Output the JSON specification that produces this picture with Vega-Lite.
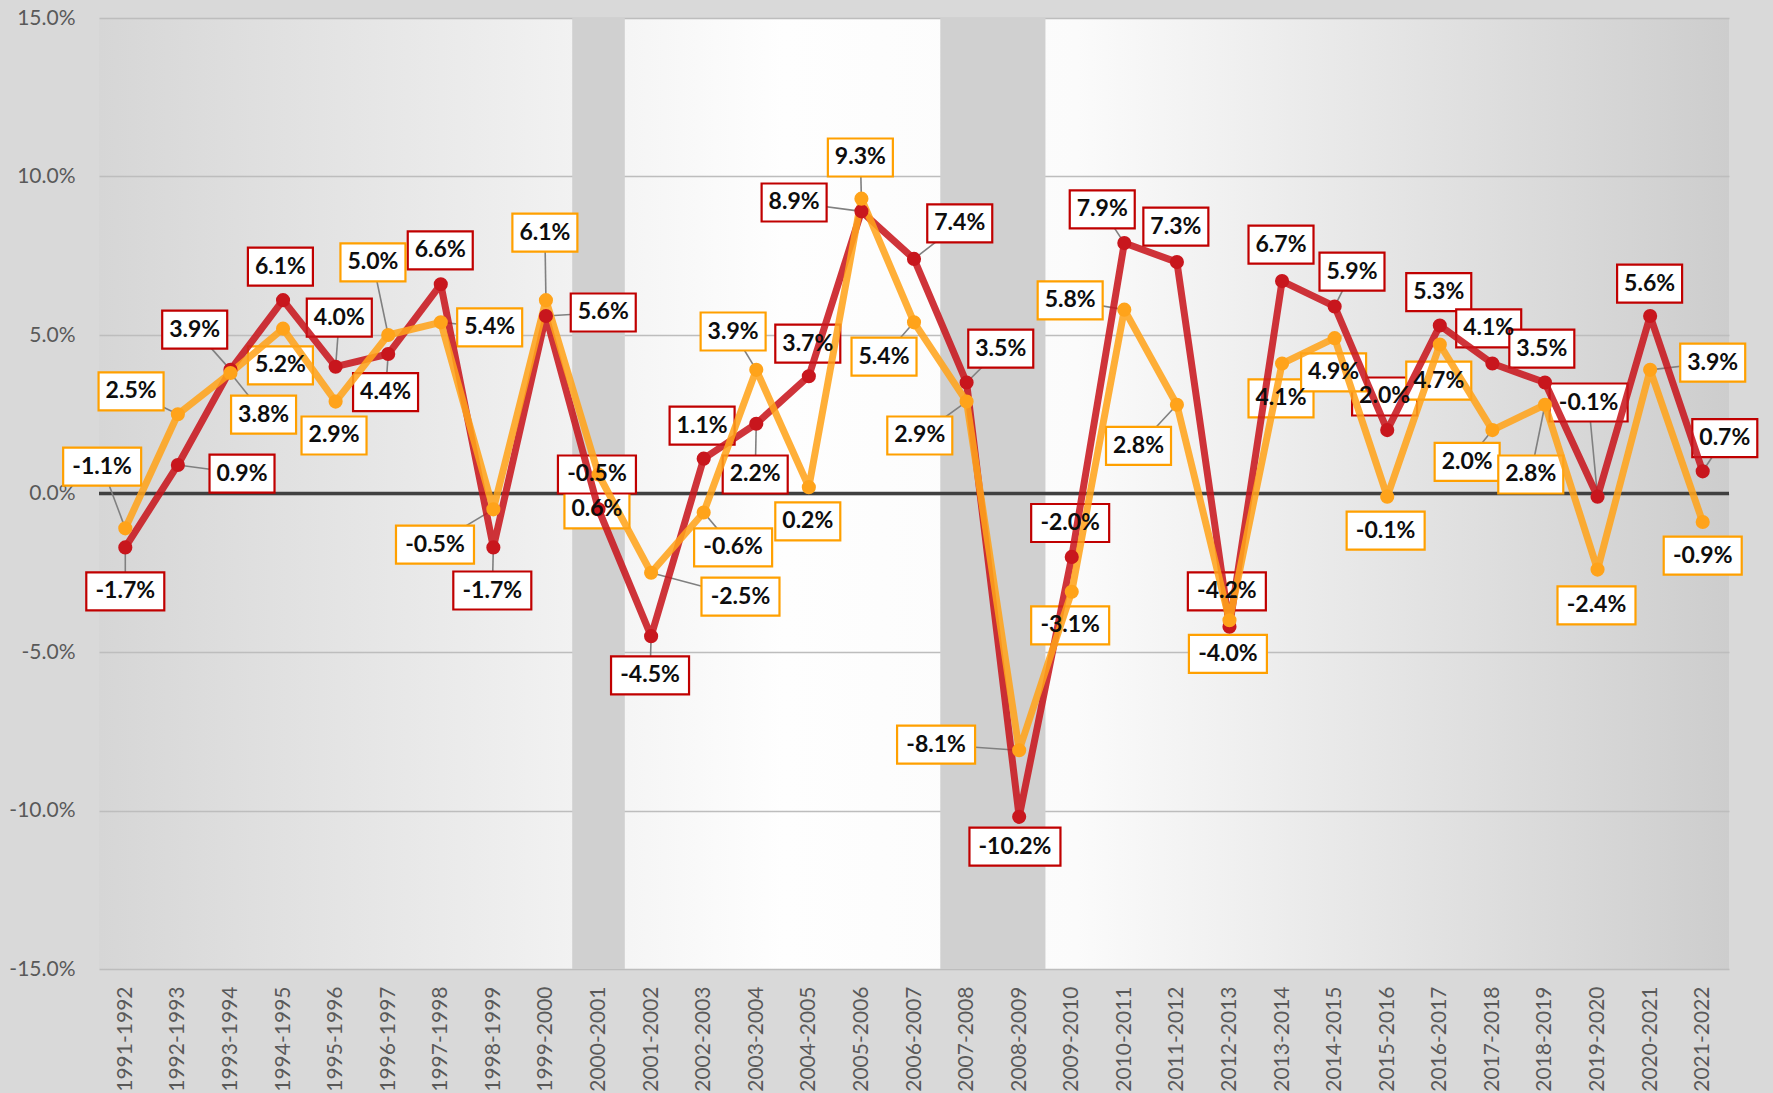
{
  "$schema": "https://vega.github.io/schema/vega-lite/v6.json",
  "autosize": {"type": "none"},
  "padding": {"left": 99, "top": 18, "right": 44, "bottom": 124},
  "width": 1630,
  "height": 951,
  "background": "#d9d9d9",
  "config": {
    "view": {"stroke": null, "fill": {"gradient": "linear", "x1": 0, "y1": 0, "x2": 1, "y2": 0, "stops": [{"offset": 0, "color": "#d6d6d6"}, {"offset": 0.42, "color": "#fefefe"}, {"offset": 0.6, "color": "#fbfbfb"}, {"offset": 1, "color": "#cdcdcd"}]}},
    "locale": {"number": {"decimal": ".", "thousands": ",", "grouping": [3], "currency": ["$", ""], "minus": "-"}}
  },
  "datasets": {
    "growth": [
      {"year": "1991-1992", "i": 0, "series": "Series 1", "v": -0.017, "lx": 0, "ly": -0.0309},
      {"year": "1992-1993", "i": 1, "series": "Series 1", "v": 0.009, "lx": 2.22, "ly": 0.0063},
      {"year": "1993-1994", "i": 2, "series": "Series 1", "v": 0.039, "lx": 1.32, "ly": 0.0517},
      {"year": "1994-1995", "i": 3, "series": "Series 1", "v": 0.061, "lx": 2.95, "ly": 0.0716},
      {"year": "1995-1996", "i": 4, "series": "Series 1", "v": 0.040, "lx": 4.07, "ly": 0.0555},
      {"year": "1996-1997", "i": 5, "series": "Series 1", "v": 0.044, "lx": 4.95, "ly": 0.032},
      {"year": "1997-1998", "i": 6, "series": "Series 1", "v": 0.066, "lx": 5.99, "ly": 0.0767},
      {"year": "1998-1999", "i": 7, "series": "Series 1", "v": -0.017, "lx": 6.98, "ly": -0.0306},
      {"year": "1999-2000", "i": 8, "series": "Series 1", "v": 0.056, "lx": 9.09, "ly": 0.0571},
      {"year": "2000-2001", "i": 9, "series": "Series 1", "v": -0.005, "lx": 8.97, "ly": 0.006},
      {"year": "2001-2002", "i": 10, "series": "Series 1", "v": -0.045, "lx": 9.98, "ly": -0.0574},
      {"year": "2002-2003", "i": 11, "series": "Series 1", "v": 0.011, "lx": 10.97, "ly": 0.0214},
      {"year": "2003-2004", "i": 12, "series": "Series 1", "v": 0.022, "lx": 11.98, "ly": 0.006},
      {"year": "2004-2005", "i": 13, "series": "Series 1", "v": 0.037, "lx": 12.98, "ly": 0.0473},
      {"year": "2005-2006", "i": 14, "series": "Series 1", "v": 0.089, "lx": 12.72, "ly": 0.0918},
      {"year": "2006-2007", "i": 15, "series": "Series 1", "v": 0.074, "lx": 15.87, "ly": 0.0852},
      {"year": "2007-2008", "i": 16, "series": "Series 1", "v": 0.035, "lx": 16.65, "ly": 0.0457},
      {"year": "2008-2009", "i": 17, "series": "Series 1", "v": -0.102, "lx": 16.92, "ly": -0.1114},
      {"year": "2009-2010", "i": 18, "series": "Series 1", "v": -0.020, "lx": 17.97, "ly": -0.0093},
      {"year": "2010-2011", "i": 19, "series": "Series 1", "v": 0.079, "lx": 18.58, "ly": 0.0896},
      {"year": "2011-2012", "i": 20, "series": "Series 1", "v": 0.073, "lx": 19.98, "ly": 0.0842},
      {"year": "2012-2013", "i": 21, "series": "Series 1", "v": -0.042, "lx": 20.95, "ly": -0.0309},
      {"year": "2013-2014", "i": 22, "series": "Series 1", "v": 0.067, "lx": 21.98, "ly": 0.0785},
      {"year": "2014-2015", "i": 23, "series": "Series 1", "v": 0.059, "lx": 23.33, "ly": 0.07},
      {"year": "2015-2016", "i": 24, "series": "Series 1", "v": 0.020, "lx": 23.95, "ly": 0.0306},
      {"year": "2016-2017", "i": 25, "series": "Series 1", "v": 0.053, "lx": 24.98, "ly": 0.0635},
      {"year": "2017-2018", "i": 26, "series": "Series 1", "v": 0.041, "lx": 25.93, "ly": 0.0521},
      {"year": "2018-2019", "i": 27, "series": "Series 1", "v": 0.035, "lx": 26.94, "ly": 0.0457},
      {"year": "2019-2020", "i": 28, "series": "Series 1", "v": -0.001, "lx": 27.83, "ly": 0.0287},
      {"year": "2020-2021", "i": 29, "series": "Series 1", "v": 0.056, "lx": 28.99, "ly": 0.0662},
      {"year": "2021-2022", "i": 30, "series": "Series 1", "v": 0.007, "lx": 30.42, "ly": 0.0175},
      {"year": "1991-1992", "i": 0, "series": "Series 2", "v": -0.011, "lx": -0.44, "ly": 0.0085},
      {"year": "1992-1993", "i": 1, "series": "Series 2", "v": 0.025, "lx": 0.11, "ly": 0.0322},
      {"year": "1993-1994", "i": 2, "series": "Series 2", "v": 0.038, "lx": 2.63, "ly": 0.0249},
      {"year": "1994-1995", "i": 3, "series": "Series 2", "v": 0.052, "lx": 2.95, "ly": 0.0404},
      {"year": "1995-1996", "i": 4, "series": "Series 2", "v": 0.029, "lx": 3.97, "ly": 0.0183},
      {"year": "1996-1997", "i": 5, "series": "Series 2", "v": 0.050, "lx": 4.71, "ly": 0.0729},
      {"year": "1997-1998", "i": 6, "series": "Series 2", "v": 0.054, "lx": 6.93, "ly": 0.0524},
      {"year": "1998-1999", "i": 7, "series": "Series 2", "v": -0.005, "lx": 5.89, "ly": -0.0161},
      {"year": "1999-2000", "i": 8, "series": "Series 2", "v": 0.061, "lx": 7.98, "ly": 0.0823},
      {"year": "2000-2001", "i": 9, "series": "Series 2", "v": 0.006, "lx": 8.97, "ly": -0.005},
      {"year": "2001-2002", "i": 10, "series": "Series 2", "v": -0.025, "lx": 11.7, "ly": -0.0325},
      {"year": "2002-2003", "i": 11, "series": "Series 2", "v": -0.006, "lx": 11.56, "ly": -0.017},
      {"year": "2003-2004", "i": 12, "series": "Series 2", "v": 0.039, "lx": 11.56, "ly": 0.0511},
      {"year": "2004-2005", "i": 13, "series": "Series 2", "v": 0.002, "lx": 12.98, "ly": -0.0088},
      {"year": "2005-2006", "i": 14, "series": "Series 2", "v": 0.093, "lx": 13.98, "ly": 0.106},
      {"year": "2006-2007", "i": 15, "series": "Series 2", "v": 0.054, "lx": 14.43, "ly": 0.0432},
      {"year": "2007-2008", "i": 16, "series": "Series 2", "v": 0.029, "lx": 15.11, "ly": 0.0183},
      {"year": "2008-2009", "i": 17, "series": "Series 2", "v": -0.081, "lx": 15.42, "ly": -0.0792},
      {"year": "2009-2010", "i": 18, "series": "Series 2", "v": -0.031, "lx": 17.97, "ly": -0.0416},
      {"year": "2010-2011", "i": 19, "series": "Series 2", "v": 0.058, "lx": 17.97, "ly": 0.0609},
      {"year": "2011-2012", "i": 20, "series": "Series 2", "v": 0.028, "lx": 19.27, "ly": 0.015},
      {"year": "2012-2013", "i": 21, "series": "Series 2", "v": -0.040, "lx": 20.97, "ly": -0.0506},
      {"year": "2013-2014", "i": 22, "series": "Series 2", "v": 0.041, "lx": 21.98, "ly": 0.03},
      {"year": "2014-2015", "i": 23, "series": "Series 2", "v": 0.049, "lx": 22.98, "ly": 0.0382},
      {"year": "2015-2016", "i": 24, "series": "Series 2", "v": -0.001, "lx": 23.97, "ly": -0.0117},
      {"year": "2016-2017", "i": 25, "series": "Series 2", "v": 0.047, "lx": 24.98, "ly": 0.0356},
      {"year": "2017-2018", "i": 26, "series": "Series 2", "v": 0.020, "lx": 25.52, "ly": 0.01},
      {"year": "2018-2019", "i": 27, "series": "Series 2", "v": 0.028, "lx": 26.73, "ly": 0.006},
      {"year": "2019-2020", "i": 28, "series": "Series 2", "v": -0.024, "lx": 27.98, "ly": -0.0353},
      {"year": "2020-2021", "i": 29, "series": "Series 2", "v": 0.039, "lx": 30.19, "ly": 0.0413},
      {"year": "2021-2022", "i": 30, "series": "Series 2", "v": -0.009, "lx": 30.0, "ly": -0.0196}
    ],
    "recessions": [
      {"from": 8.5, "to": 9.5},
      {"from": 15.5, "to": 17.5}
    ]
  },
  "data": {"name": "growth"},
  "layer": [
    {
      "data": {"name": "recessions"},
      "mark": {"type": "rect", "color": "#d0d0d0"},
      "encoding": {
        "x": {"field": "from", "type": "quantitative", "title": null,
          "scale": {"domain": [-0.5, 30.5], "nice": false, "zero": false},
          "axis": {"values": [0,1,2,3,4,5,6,7,8,9,10,11,12,13,14,15,16,17,18,19,20,21,22,23,24,25,26,27,28,29,30],
            "labelExpr": "(1991 + datum.value) + '-' + (1992 + datum.value)",
            "labelAngle": -90, "labelFont": "Lato", "labelFontSize": 21, "labelColor": "#595959",
            "labelPadding": 17, "ticks": false, "domain": false, "grid": false, "labelOverlap": false, "labelBound": false, "labelFlush": false}},
        "x2": {"field": "to"},
        "y": {"datum": -0.15, "type": "quantitative", "title": null,
          "scale": {"domain": [-0.15, 0.15], "nice": false, "zero": false},
          "axis": {"values": [-0.15, -0.1, -0.05, 0, 0.05, 0.1, 0.15], "format": ".1%",
            "labelFont": "Lato", "labelFontSize": 21, "labelColor": "#595959", "labelPadding": 24,
            "ticks": false, "domain": false, "grid": true, "gridColor": "#bdbdbd", "gridWidth": 1.4, "labelFlush": false}},
        "y2": {"datum": 0.15}
      }
    },
    {
      "data": {"values": [{"z": 0}]},
      "mark": {"type": "rule", "color": "#404040", "strokeWidth": 3.5},
      "encoding": {"y": {"field": "z", "type": "quantitative", "title": null}}
    },
    {
      "transform": [{"filter": "abs(datum.lx - datum.i) > 0.15 || abs(datum.ly - datum.v) > 0.0117"}],
      "mark": {"type": "rule", "color": "#808080", "strokeWidth": 1.6},
      "encoding": {
        "x": {"field": "i", "type": "quantitative", "title": null},
        "y": {"field": "v", "type": "quantitative", "title": null},
        "x2": {"field": "lx"},
        "y2": {"field": "ly"}
      }
    },
    {
      "transform": [{"filter": "datum.v >= 0"}],
      "mark": {"type": "rect", "width": 65, "height": 38, "fill": "#ffffff", "strokeWidth": 2.2},
      "encoding": {
        "x": {"field": "lx", "type": "quantitative", "title": null},
        "y": {"field": "ly", "type": "quantitative", "title": null},
        "stroke": {"field": "series", "type": "nominal", "scale": {"domain": ["Series 1", "Series 2"], "range": ["#c00000", "#ffa000"]}, "legend": null}
      }
    },
    {
      "transform": [{"filter": "datum.v < 0 && datum.v > -0.1"}],
      "mark": {"type": "rect", "width": 78, "height": 38, "fill": "#ffffff", "strokeWidth": 2.2},
      "encoding": {
        "x": {"field": "lx", "type": "quantitative", "title": null},
        "y": {"field": "ly", "type": "quantitative", "title": null},
        "stroke": {"field": "series", "type": "nominal", "legend": null}
      }
    },
    {
      "transform": [{"filter": "datum.v <= -0.1"}],
      "mark": {"type": "rect", "width": 91, "height": 38, "fill": "#ffffff", "strokeWidth": 2.2},
      "encoding": {
        "x": {"field": "lx", "type": "quantitative", "title": null},
        "y": {"field": "ly", "type": "quantitative", "title": null},
        "stroke": {"field": "series", "type": "nominal", "legend": null}
      }
    },
    {
      "mark": {"type": "line", "strokeWidth": 7, "opacity": 0.87, "strokeJoin": "round", "strokeCap": "round"},
      "encoding": {
        "x": {"field": "i", "type": "quantitative", "title": null},
        "y": {"field": "v", "type": "quantitative", "title": null},
        "color": {"field": "series", "type": "nominal", "scale": {"domain": ["Series 1", "Series 2"], "range": ["#c8161d", "#ffa31a"]}, "legend": null}
      }
    },
    {
      "mark": {"type": "circle", "size": 200, "opacity": 1},
      "encoding": {
        "x": {"field": "i", "type": "quantitative", "title": null},
        "y": {"field": "v", "type": "quantitative", "title": null},
        "color": {"field": "series", "type": "nominal", "legend": null}
      }
    },
    {
      "mark": {"type": "text", "font": "Lato", "fontSize": 23, "fontWeight": "bold", "color": "#0d0d0d", "align": "center", "baseline": "middle"},
      "encoding": {
        "x": {"field": "lx", "type": "quantitative", "title": null},
        "y": {"field": "ly", "type": "quantitative", "title": null},
        "text": {"field": "v", "type": "quantitative", "format": ".1%"}
      }
    }
  ]
}
